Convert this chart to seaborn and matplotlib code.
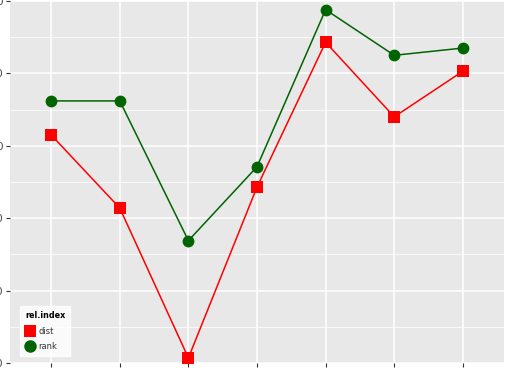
import matplotlib
matplotlib.use("Agg")
import matplotlib.pyplot as plt
from matplotlib.lines import Line2D
import seaborn as sns
import pandas as pd
import numpy as np

categories = ["1", "2", "3", "4", "5", "6", "7"]
dist_values = [3.15, 2.14, 0.07, 2.43, 4.43, 3.40, 4.03]
rank_values = [3.62, 3.62, 1.69, 2.71, 4.88, 4.25, 4.35]
y_ticks = [0, 1, 2, 3, 4, 5]
y_tick_labels = ["0.0", "1.0", "2.0", "3.0", "4.0", "5.0"]

df = pd.DataFrame({
    "pos": list(range(1, len(categories) + 1)) * 2,
    "value": dist_values + rank_values,
    "rel.index": ["dist"] * len(categories) + ["rank"] * len(categories),
})

palette = {"dist": "#FF0000", "rank": "#006400"}
markers = {"dist": "s", "rank": "o"}

fig = plt.figure(figsize=(5.07, 3.69), dpi=100)
ax = fig.add_axes([10 / 507, 6 / 369, 494 / 507, 362 / 369])
ax.set_facecolor("#E8E8E8")

sns.lineplot(data=df, x="pos", y="value", hue="rel.index", style="rel.index",
             markers=markers, dashes=False, palette=palette, ax=ax,
             linewidth=1.1, markersize=8.5, markeredgewidth=0, legend=False)

ax.set_xlim(0.4, 7.6)
ax.set_ylim(0, 5)
ax.set_xticks(range(1, len(categories) + 1))
ax.set_xticklabels(categories)
ax.set_yticks(y_ticks)
ax.set_yticklabels(y_tick_labels)
ax.set_yticks([0.5, 1.5, 2.5, 3.5, 4.5], minor=True)
ax.grid(which="major", color="white", linewidth=1.1)
ax.grid(which="minor", axis="y", color="white", linewidth=0.55)
ax.set_axisbelow(True)
for s in ax.spines.values():
    s.set_visible(False)
ax.tick_params(axis="both", which="major", color="#333333", length=2.8, width=0.8,
               labelsize=8, labelcolor="#4D4D4D", pad=2)
ax.tick_params(axis="both", which="minor", length=0)
ax.set_xlabel("")
ax.set_ylabel("")

handles = [
    Line2D([], [], linestyle="none", marker="s", color="#FF0000", markersize=9, markeredgewidth=0),
    Line2D([], [], linestyle="none", marker="o", color="#006400", markersize=9, markeredgewidth=0),
]
leg = ax.legend(handles, ["dist", "rank"], title="rel.index", loc="lower left",
                bbox_to_anchor=(0.02, 0.02), borderaxespad=0, frameon=True,
                fancybox=False, fontsize=6, title_fontsize=5.8, handlelength=1.2,
                handletextpad=0.45, labelspacing=0.75, borderpad=0.6)
leg.get_frame().set_facecolor("white")
leg.get_frame().set_edgecolor("white")
leg.get_title().set_fontweight("bold")
leg._legend_box.align = "left"
for t in leg.get_texts():
    t.set_color("#333333")

fig.savefig("out.png", dpi=100)
